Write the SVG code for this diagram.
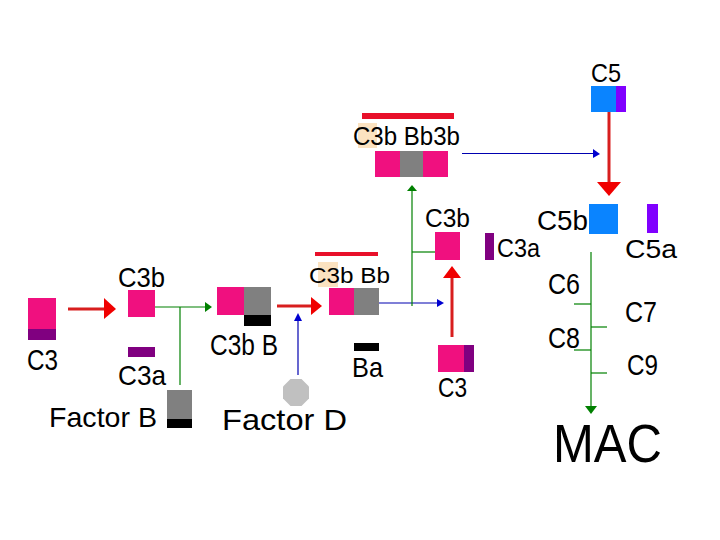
<svg xmlns="http://www.w3.org/2000/svg" width="720" height="540" viewBox="0 0 720 540">
<style>
text{font-family:"Liberation Sans",Arial,sans-serif;fill:#000}
.pk{fill:#f0107f}.gy{fill:#808080}.pu{fill:#800080}.bk{fill:#000}.bl{fill:#0a84ff}.vi{fill:#8000ff}.rb{fill:#e8102a}.pe{fill:#fbe2c0}
.red{stroke:#d81e1e;stroke-width:3;fill:none}.grn{stroke:#008000;stroke-width:1.2;fill:none}.blu{stroke:#0000b0;stroke-width:1.2;fill:none}
.rh{fill:#f00000}.gh{fill:#008000}.bh{fill:#0000d0}
</style>
<rect width="720" height="540" fill="#fff"/>
<g id="connectors">
<line class="red" x1="68" y1="309" x2="105" y2="309"/>
<polygon class="rh" points="104,298 116,309 104,319"/>
<line class="grn" x1="155" y1="307" x2="206" y2="307"/>
<polygon class="gh" points="205,302 212,307 205,312"/>
<line class="grn" x1="180" y1="307" x2="180" y2="385"/>
<line class="red" x1="277" y1="306" x2="312" y2="306"/>
<polygon class="rh" points="311,297 322,306 311,315"/>
<line class="blu" x1="298" y1="375" x2="298" y2="318"/>
<polygon class="bh" points="294,321 298,313 302,321"/>
<line class="blu" x1="379" y1="303" x2="438" y2="303"/>
<polygon class="bh" points="437,299 444,303 437,307"/>
<line class="grn" x1="412" y1="306" x2="412" y2="190"/>
<polygon class="gh" points="407,191 412,185 417,191"/>
<line class="grn" x1="412" y1="252" x2="435" y2="252"/>
<line class="blu" x1="462" y1="153.5" x2="594" y2="153.5"/>
<polygon class="bh" points="593,149 600,154 593,158"/>
<line class="red" x1="452" y1="337" x2="452" y2="276"/>
<polygon class="rh" points="443,278 452,266 461,278"/>
<line class="red" x1="609" y1="112" x2="609" y2="184"/>
<polygon class="rh" points="597,182 621,182 609,196"/>
<line class="grn" x1="591" y1="252" x2="591" y2="408"/>
<polygon class="gh" points="585,406 597,406 591,414"/>
<line class="grn" x1="574" y1="304" x2="591" y2="304"/>
<line class="grn" x1="591" y1="327" x2="607" y2="327"/>
<line class="grn" x1="574" y1="350" x2="591" y2="350"/>
<line class="grn" x1="591" y1="373" x2="607" y2="373"/>
</g>
<g id="c3-left">
<rect class="pk" x="28" y="298" width="28" height="31"/>
<rect class="pu" x="28" y="329" width="28" height="11"/>
<text x="27" y="370" font-size="30" textLength="31" lengthAdjust="spacingAndGlyphs">C3</text>
</g>
<g id="c3b-left">
<rect class="pk" x="128" y="290" width="27" height="27"/>
<text x="118" y="287" font-size="28" textLength="47" lengthAdjust="spacingAndGlyphs">C3b</text>
</g>
<g id="c3a-left">
<rect class="pu" x="128" y="347" width="27" height="10"/>
<text x="118" y="385" font-size="28" textLength="48" lengthAdjust="spacingAndGlyphs">C3a</text>
</g>
<g id="factor-b">
<rect class="gy" x="167" y="390" width="25" height="29"/>
<rect class="bk" x="167" y="419" width="25" height="9"/>
<text x="49" y="427" font-size="28" textLength="108" lengthAdjust="spacingAndGlyphs">Factor B</text>
</g>
<g id="c3bB">
<rect class="pk" x="217" y="287" width="27" height="28"/>
<rect class="gy" x="244" y="287" width="27" height="28"/>
<rect class="bk" x="244" y="315" width="27" height="11"/>
<text x="210" y="355" font-size="30" textLength="68" lengthAdjust="spacingAndGlyphs">C3b B</text>
</g>
<g id="factor-d">
<polygon fill="#c0c0c0" points="290.5,379 301.5,379 309,386.5 309,398.5 301.5,406 290.5,406 283,398.5 283,386.5"/>
<text x="222" y="430" font-size="29" textLength="125" lengthAdjust="spacingAndGlyphs">Factor D</text>
</g>
<g id="c3bBb">
<rect class="rb" x="315" y="252" width="63" height="4"/>
<rect class="pe" x="318" y="262" width="20" height="25"/>
<rect class="pk" x="329" y="288" width="25" height="27"/>
<rect class="gy" x="354" y="288" width="25" height="27"/>
<text x="309" y="283" font-size="22" textLength="81" lengthAdjust="spacingAndGlyphs">C3b Bb</text>
</g>
<g id="ba">
<rect class="bk" x="354" y="343" width="25" height="8"/>
<text x="352" y="377" font-size="28" textLength="31" lengthAdjust="spacingAndGlyphs">Ba</text>
</g>
<g id="c3bBb3b">
<rect class="rb" x="362" y="113" width="92" height="6"/>
<rect class="pe" x="358" y="123" width="19" height="25"/>
<rect class="pk" x="375" y="151" width="25" height="26"/>
<rect class="gy" x="400" y="151" width="23" height="26"/>
<rect class="pk" x="423" y="151" width="25" height="26"/>
<text x="353" y="145" font-size="25" textLength="107" lengthAdjust="spacingAndGlyphs">C3b Bb3b</text>
</g>
<g id="c3b-right">
<rect class="pk" x="435" y="232" width="25" height="28"/>
<text x="425" y="227" font-size="25" textLength="45" lengthAdjust="spacingAndGlyphs">C3b</text>
</g>
<g id="c3a-right">
<rect class="pu" x="485" y="233" width="9" height="27"/>
<text x="497" y="257" font-size="25" textLength="43" lengthAdjust="spacingAndGlyphs">C3a</text>
</g>
<g id="c3-bottom">
<rect class="pk" x="438" y="345" width="26" height="27"/>
<rect class="pu" x="464" y="345" width="10" height="27"/>
<text x="438" y="397" font-size="28" textLength="29" lengthAdjust="spacingAndGlyphs">C3</text>
</g>
<g id="c5">
<rect class="bl" x="591" y="86" width="25" height="26"/>
<rect class="vi" x="616" y="86" width="10" height="26"/>
<text x="591" y="82" font-size="25" textLength="30" lengthAdjust="spacingAndGlyphs">C5</text>
</g>
<g id="c5b">
<rect class="bl" x="589" y="204" width="29" height="30"/>
<text x="537" y="230" font-size="27" textLength="51" lengthAdjust="spacingAndGlyphs">C5b</text>
</g>
<g id="c5a">
<rect class="vi" x="647" y="204" width="11" height="29"/>
<text x="625" y="258" font-size="26" textLength="52" lengthAdjust="spacingAndGlyphs">C5a</text>
</g>
<g id="c6"><text x="548" y="294" font-size="29" textLength="32" lengthAdjust="spacingAndGlyphs">C6</text></g>
<g id="c7"><text x="625" y="322" font-size="29" textLength="32" lengthAdjust="spacingAndGlyphs">C7</text></g>
<g id="c8"><text x="548" y="348" font-size="30" textLength="32" lengthAdjust="spacingAndGlyphs">C8</text></g>
<g id="c9"><text x="627" y="375" font-size="30" textLength="31" lengthAdjust="spacingAndGlyphs">C9</text></g>
<g id="mac"><text x="553" y="462" font-size="54" textLength="109" lengthAdjust="spacingAndGlyphs">MAC</text></g>
</svg>
